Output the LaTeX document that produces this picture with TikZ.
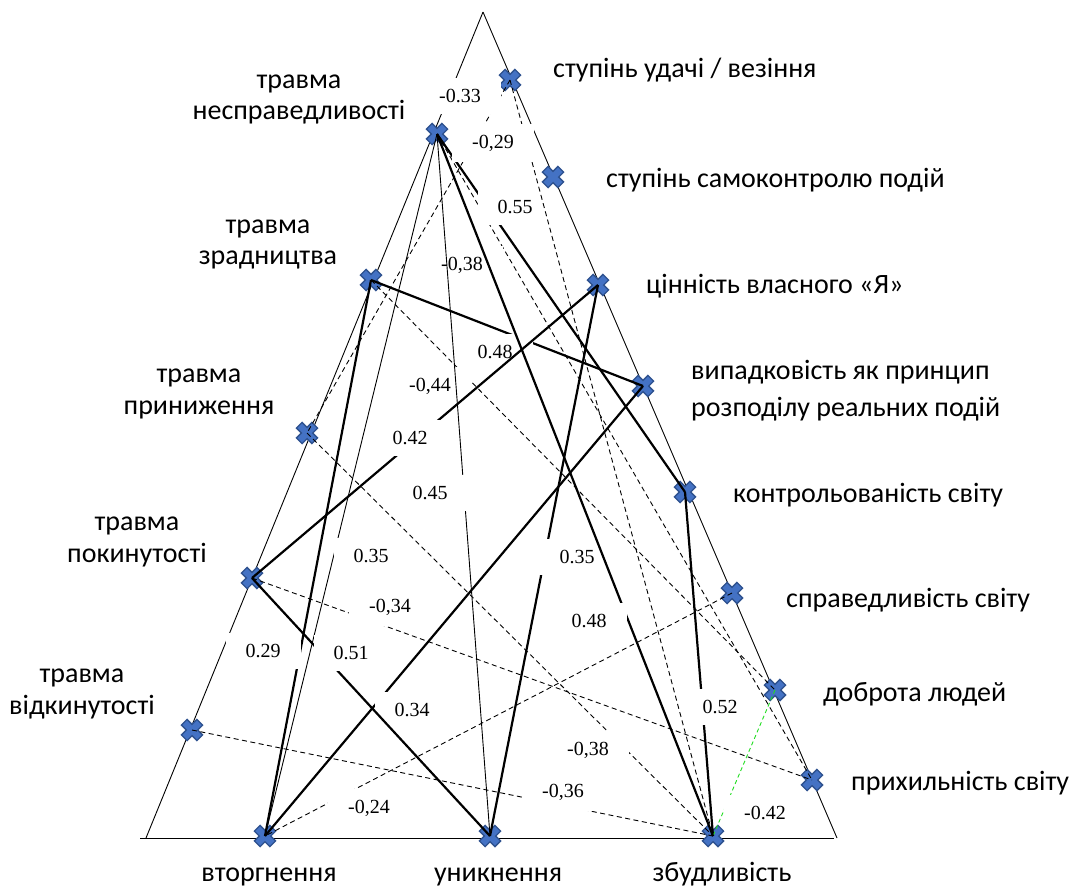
\documentclass[tikz,border=0pt]{standalone}
\usepackage{fontspec}
\setmainfont{Carlito}
\newfontfamily\numfont{Liberation Serif}
\definecolor{mfill}{HTML}{4472C4}
\definecolor{mline}{HTML}{2F528F}
\definecolor{lgreen}{HTML}{22DD22}
\begin{document}
\begin{tikzpicture}[x=1pt,y=-1pt,
  thk/.style={line width=2.2pt},
  thn/.style={line width=0.9pt},
  dsh/.style={line width=0.9pt, dash pattern=on 5pt off 3.5pt},
  gdsh/.style={line width=0.9pt, dash pattern=on 4pt off 3pt, draw=lgreen},
  side/.style={line width=0.9pt},
  val/.style={font=\numfont\fontsize{20}{20}\selectfont, fill=white, inner xsep=20pt, inner ysep=11pt},
  lbl/.style={font=\fontsize{28}{32}\selectfont, anchor=base, inner sep=0pt},
  lblw/.style={lbl, anchor=base west},
  xmk/.pic={\filldraw[fill=mfill, draw=mline, line width=1.3pt, rotate=45]
     (4,11)--(4,4)--(11,4)--(11,-4)--(4,-4)--(4,-11)--(-4,-11)--(-4,-4)--(-11,-4)--(-11,4)--(-4,4)--(-4,11)--cycle;}
]
\useasboundingbox (0,0) rectangle (1070,887);
% triangle
\coordinate (T) at (483,12);
\coordinate (BL) at (146,838);
\coordinate (BR) at (837,838);
\coordinate (BL0) at (140,838);
\coordinate (BR0) at (834,838);
% points
\coordinate (A1) at (437,134);
\coordinate (A2) at (371,280);
\coordinate (A3) at (307,433);
\coordinate (A4) at (252,578);
\coordinate (A5) at (192,730);
\coordinate (B1) at (510,80);
\coordinate (B2) at (553,177);
\coordinate (B3) at (598,285);
\coordinate (B4) at (643,386);
\coordinate (B5) at (685,492);
\coordinate (B6) at (732,593);
\coordinate (B7) at (775,690);
\coordinate (B8) at (812,780);
\coordinate (C1) at (265,836);
\coordinate (C2) at (490,836);
\coordinate (C3) at (713,836);

\draw[side] (T) -- (BL);
\draw[side] (T) -- (BR);
\draw[side] (BL0) -- (BR0);

\foreach \p in {A1,A2,A3,A4,A5,B1,B2,B3,B4,B5,B6,B7,B8,C1,C2,C3}
  \pic at (\p) {xmk};

% lower layer of connectors
\draw[dsh] (B1) -- (A3);
\draw[thk] (A1) -- (B5);
\draw[dsh] (A1) -- (B8);
\draw[thk] (A2) -- (B4);
\draw[dsh] (A2) -- (B7);
\draw[thk] (A2) -- (C1);
\draw[thn] (A1) -- (C1);
\draw[dsh] (A3) -- (C3);
\draw[dsh] (A4) -- (B8);
\draw[dsh] (A5) -- (C3);
\draw[thk] (B3) -- (C2);
\draw[thk] (B4) -- (C1);
\draw[thk] (B5) -- (C3);
\draw[dsh] (B6) -- (C1);
\draw[gdsh] (B7) -- (C3);

% value labels (lower)
\node[val] (v1) at (460,96) {-0.33};
\node[val] (v3) at (515,207) {0.55};
\node[val] (v4) at (462,265) {-0,38};
\node[val] (v5) at (495,352) {0.48};
\node[val] (v6) at (430,386) {-0,44};
\node[val] (v9) at (371,556) {0.35};
\node[val] (v10) at (577,557) {0.35};
\node[val] (v11) at (390,607) {-0,34};
\node[val] (v13) at (263,651) {0.29};
\node[val] (v15) at (412,710) {0.34};
\node[val] (v16) at (720,707) {0.52};
\node[val] (v17) at (588,750) {-0,38};
\node[val] (v18) at (369,808) {-0,24};
\node[val] (v19) at (563,792) {-0,36};
\node[val] (v20) at (765,813) {-0.42};

% upper layer of connectors
\draw[thn] (A1) -- (C2);
\draw[thk] (A1) -- (C3);
\draw[dsh] (B1) -- (C3);
\draw[thk] (A4) -- (B3);
\draw[thk] (A4) -- (C2);

% value labels (upper)
\node[val] (v2) at (493,143) {-0,29};
\node[val] (v7) at (410,438) {0.42};
\node[val] (v8) at (430,493) {0.45};
\node[val] (v12) at (589,621) {0.48};
\node[val] (v14) at (351,653) {0.51};

% left labels
\node[lbl] (a1a) at (299,88) {травма};
\node[lbl] (a1b) at (299,119) {несправедливості};
\node[lbl] (a2a) at (268,233) {травма};
\node[lbl] (a2b) at (268,264) {зрадництва};
\node[lbl] (a3a) at (199,382) {травма};
\node[lbl] (a3b) at (199,414) {приниження};
\node[lbl] (a4a) at (137,530) {травма};
\node[lbl] (a4b) at (137,562) {покинутості};
\node[lbl] (a5a) at (82,682) {травма};
\node[lbl] (a5b) at (82,714) {відкинутості};

% right labels
\node[lblw] (b1) at (553,77) {ступінь удачі / везіння};
\node[lblw] (b2) at (606,187) {ступінь самоконтролю подій};
\node[lblw] (b3) at (646,293) {цінність власного «Я»};
\node[lblw] (b4a) at (691,379) {випадковість як принцип};
\node[lblw] (b4b) at (691,416) {розподілу реальних подій};
\node[lblw] (b5) at (733,502) {контрольованість світу};
\node[lblw] (b6) at (786,607) {справедливість світу};
\node[lblw] (b7) at (823,701) {доброта людей};
\node[lblw] (b8) at (851,790) {прихильність світу};

% bottom labels
\node[lbl] (c1) at (269,881) {вторгнення};
\node[lbl] (c2) at (498,881) {уникнення};
\node[lbl] (c3) at (722,881) {збудливість};
\end{tikzpicture}
\end{document}
